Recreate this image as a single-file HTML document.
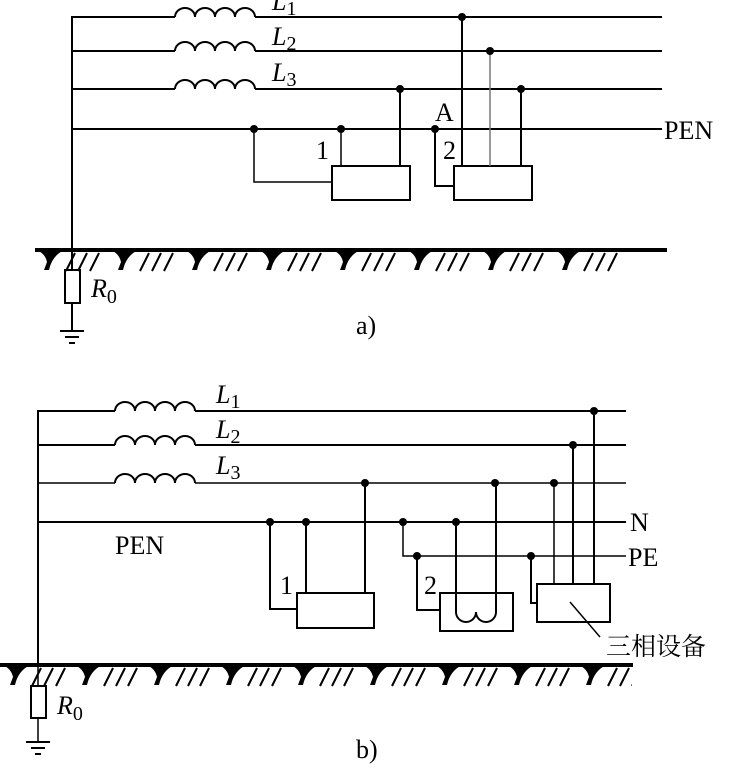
<!DOCTYPE html>
<html><head><meta charset="utf-8"><style>
html,body{margin:0;padding:0;background:#fff;}
svg{display:block}
text{font-family:"Liberation Serif","Noto Serif CJK SC",serif;fill:#000}
</style></head><body>
<svg width="730" height="768" viewBox="0 0 730 768" xmlns="http://www.w3.org/2000/svg">
<defs>
<pattern id="gA" x="36" y="250" width="74" height="24" patternUnits="userSpaceOnUse">
 <path d="M0,0 Q9,3 11,12 L8,20 L13,20 Q16,6 28,0 Z" fill="#000"/>
 <g stroke="#000" stroke-width="2"><line x1="30" y1="21" x2="39" y2="3"/><line x1="42" y1="21" x2="51" y2="3"/><line x1="54" y1="21" x2="63" y2="3"/></g>
</pattern>
<pattern id="gB" x="2" y="665" width="72" height="24" patternUnits="userSpaceOnUse">
 <path d="M0,0 Q9,3 11,12 L8,20 L13,20 Q16,6 28,0 Z" fill="#000"/>
 <g stroke="#000" stroke-width="2"><line x1="30" y1="21" x2="39" y2="3"/><line x1="42" y1="21" x2="51" y2="3"/><line x1="54" y1="21" x2="63" y2="3"/></g>
</pattern>
</defs>
<g stroke="#000" fill="none" stroke-width="2">
<path d="M72,250 V17 H175 M255,17 H662"/>
<path d="M72,51 H175 M255,51 H662"/>
<path d="M72,89 H175 M255,89 H662"/>
<path d="M72,129 H662"/>
<path d="M175,17 a10,9 0 0 1 20,0 a10,9 0 0 1 20,0 a10,9 0 0 1 20,0 a10,9 0 0 1 20,0"/>
<path d="M175,51 a10,9 0 0 1 20,0 a10,9 0 0 1 20,0 a10,9 0 0 1 20,0 a10,9 0 0 1 20,0"/>
<path d="M175,89 a10,9 0 0 1 20,0 a10,9 0 0 1 20,0 a10,9 0 0 1 20,0 a10,9 0 0 1 20,0"/>
<path d="M35,250 H667" stroke-width="4"/>
<path d="M72,250 V270 M72,303 V331"/>
<rect x="65" y="270" width="15" height="33"/>
<path d="M60,331 H84 M65,337 H79 M69,343 H75"/>
<rect x="332" y="166" width="78" height="34"/>
<path d="M254,129 V182 H332" stroke-width="1.5"/>
<path d="M341,129 V166" stroke-width="1.5"/>
<path d="M400,89 V166"/>
<rect x="454" y="166" width="78" height="34"/>
<path d="M462,17 V166"/>
<path d="M490,51 V166" stroke="#777" stroke-width="1.5"/>
<path d="M521,89 V166"/>
<path d="M435,129 V186 H454"/>
<path d="M38,665 V411 H115 M195,411 H626"/>
<path d="M38,445 H115 M195,445 H626"/>
<path d="M38,483 H115 M195,483 H626" stroke-width="1.5"/>
<path d="M38,522 H626"/>
<path d="M403,522 V556 H626" stroke-width="1.5"/>
<path d="M115,411 a10,9 0 0 1 20,0 a10,9 0 0 1 20,0 a10,9 0 0 1 20,0 a10,9 0 0 1 20,0"/>
<path d="M115,445 a10,9 0 0 1 20,0 a10,9 0 0 1 20,0 a10,9 0 0 1 20,0 a10,9 0 0 1 20,0"/>
<path d="M115,483 a10,9 0 0 1 20,0 a10,9 0 0 1 20,0 a10,9 0 0 1 20,0 a10,9 0 0 1 20,0"/>
<path d="M0,665 H633" stroke-width="4"/>
<path d="M38,665 V686 M38,718 V741" stroke-width="1.5"/>
<rect x="31" y="686" width="15" height="32"/>
<path d="M26,742 H50 M31,748 H45 M35,754 H41"/>
<rect x="297" y="593" width="77" height="35"/>
<path d="M270,522 V609 H297"/>
<path d="M306,522 V593"/>
<path d="M365,483 V593"/>
<rect x="440" y="593" width="73" height="38"/>
<path d="M417,556 V610 H440"/>
<path d="M456,522 V612 a10,10 0 0 0 20,0 a10,10 0 0 0 20,0 V483"/>
<rect x="537" y="584" width="73" height="38"/>
<path d="M531,556 V603 H537"/>
<path d="M554,483 V584" stroke-width="1.5"/>
<path d="M573,445 V584"/>
<path d="M594,411 V584"/>
<path d="M570,602 L600,637" stroke-width="1.5"/>
</g>
<rect x="36" y="252" width="592" height="20" fill="url(#gA)"/>
<rect x="0" y="667" width="632" height="20" fill="url(#gB)"/>
<g fill="#000">
<circle cx="254" cy="129" r="4"/><circle cx="341" cy="129" r="4"/><circle cx="400" cy="89" r="4"/>
<circle cx="462" cy="17" r="4"/><circle cx="490" cy="51" r="4"/><circle cx="521" cy="89" r="4"/><circle cx="435" cy="129" r="4"/>
<circle cx="270" cy="522" r="4"/><circle cx="306" cy="522" r="4"/><circle cx="365" cy="483" r="4"/>
<circle cx="403" cy="522" r="4"/><circle cx="417" cy="556" r="4"/><circle cx="456" cy="522" r="4"/><circle cx="495" cy="483" r="4"/>
<circle cx="531" cy="556" r="4"/><circle cx="554" cy="483" r="4"/><circle cx="573" cy="445" r="4"/><circle cx="594" cy="411" r="4"/>
</g>
<g font-size="26">
<text x="272" y="10" font-style="italic">L<tspan font-style="normal" font-size="20" dy="5">1</tspan></text>
<text x="272" y="45" font-style="italic">L<tspan font-style="normal" font-size="20" dy="5">2</tspan></text>
<text x="272" y="81" font-style="italic">L<tspan font-style="normal" font-size="20" dy="5">3</tspan></text>
<text x="664" y="139">PEN</text>
<text x="316" y="159">1</text>
<text x="435" y="121">A</text>
<text x="443" y="159">2</text>
<text x="91" y="297" font-style="italic">R<tspan font-style="normal" font-size="20" dy="6">0</tspan></text>
<text x="356" y="334">a)</text>
<text x="216" y="403" font-style="italic">L<tspan font-style="normal" font-size="20" dy="5">1</tspan></text>
<text x="216" y="438" font-style="italic">L<tspan font-style="normal" font-size="20" dy="5">2</tspan></text>
<text x="216" y="474" font-style="italic">L<tspan font-style="normal" font-size="20" dy="5">3</tspan></text>
<text x="115" y="554">PEN</text>
<text x="630" y="531">N</text>
<text x="628" y="566">PE</text>
<text x="280" y="594">1</text>
<text x="424" y="594">2</text>
<text x="57" y="714" font-style="italic">R<tspan font-style="normal" font-size="20" dy="6">0</tspan></text>
<text x="356" y="758">b)</text>
<text x="606" y="655" font-family="'Noto Sans CJK SC',sans-serif" font-size="25">三相设备</text>
</g>
</svg>
</body></html>
